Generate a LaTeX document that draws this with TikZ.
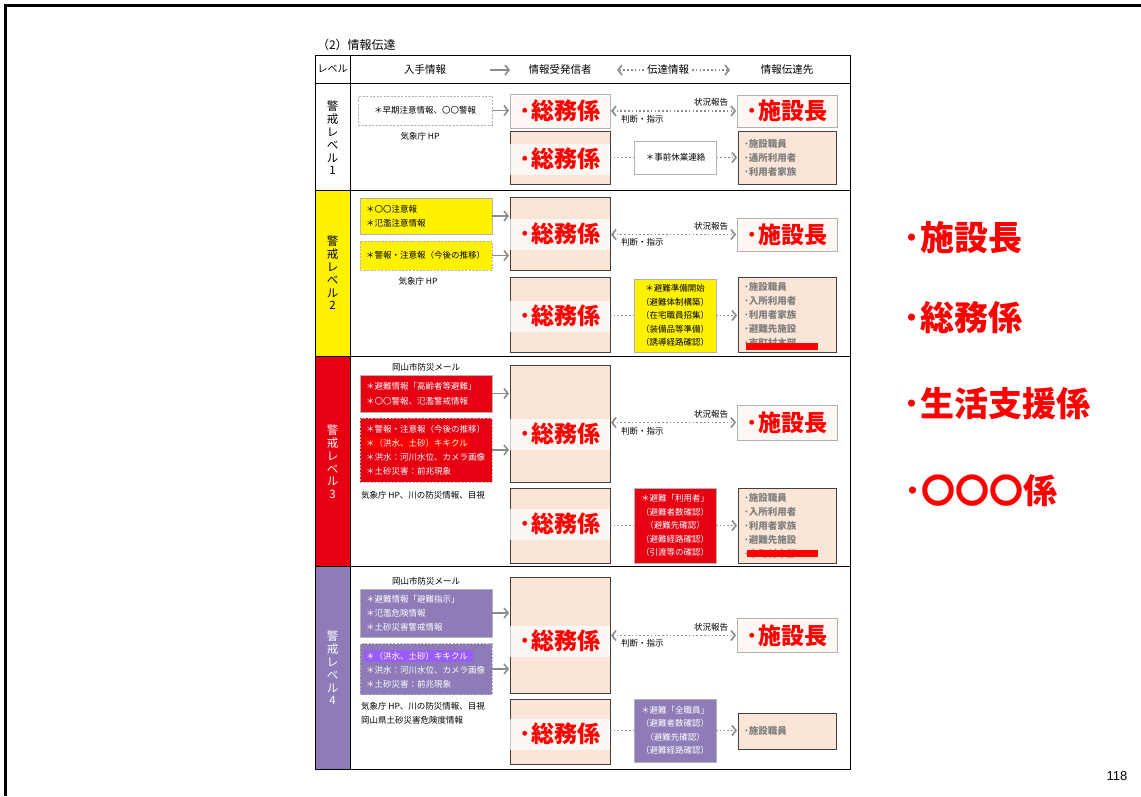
\documentclass[tikz,border=0pt]{standalone}
\usepackage{fontspec}
\setmainfont{Noto Sans CJK JP}
\newfontfamily\arialf{Liberation Sans}
\usetikzlibrary{arrows.meta}
\definecolor{pk}{HTML}{FBE5D6}
\definecolor{yl}{HTML}{FFF200}
\definecolor{rd}{HTML}{E60012}
\definecolor{pu}{HTML}{8E7CB8}
\definecolor{hlr}{HTML}{FF0000}
\definecolor{hlp}{HTML}{9B5CF6}
\definecolor{ar}{HTML}{8C8C8C}
\definecolor{txg}{HTML}{7F7F7F}
\newcommand\fsz[2]{\fontsize{#1}{#2}\selectfont}
\tikzset{
  every node/.style={inner sep=0pt, outer sep=0pt},
  sm/.style={font=\fsz{8.5}{14}},
  hdr/.style={font=\fsz{10.5}{12}},
  lv/.style={align=center, font=\fsz{11.5}{12.8}},
  src/.style={sm, draw=gray!60, line width=0.6pt, text width=120pt, inner xsep=6pt, align=left, minimum height=#1},
  bigred/.style={text=hlr, font=\fsz{23}{23}\bfseries},
  mbox/.style={fill=pk, draw=black!75, line width=0.7pt, minimum width=100pt, minimum height=#1},
  mtop/.style={fill=pk!30, draw=gray!60, line width=0.8pt, minimum width=100pt, minimum height=#1, bigred},
  ovl/.style={fill=white, fill opacity=0.72, text opacity=1, minimum width=100pt, minimum height=31pt, bigred},
  rtop/.style={fill=pk!30, draw=gray!60, line width=0.8pt, minimum width=100pt, minimum height=#1, bigred},
  rbox/.style={fill=pk, draw=black!75, line width=0.7pt, text width=86pt, inner xsep=6pt, align=left, text=txg, font=\fsz{9.5}{14}\bfseries, minimum height=#1},
  cbox/.style={draw=gray!60, line width=0.6pt, minimum width=82pt, align=center, font=\fsz{8.5}{13.5}, minimum height=#1},
  lbl/.style={sm},
  arr/.style={draw=ar, line width=1.6pt, shorten >=1pt, -{Straight Barb[length=4pt,width=10pt]}},
  dotl/.style={draw=ar, line width=1.6pt, dash pattern=on 1.6pt off 2.2pt},
  dota/.style={dotl, shorten >=1pt, -{Straight Barb[length=4pt,width=10pt]}},
  dotd/.style={dotl, shorten >=1pt, shorten <=1pt, {Straight Barb[length=4pt,width=10pt]}-{Straight Barb[length=4pt,width=10pt]}},
  rlabel/.style={anchor=west, text=hlr, font=\fsz{34}{34}\bfseries}
}
\begin{document}
\begin{tikzpicture}[x=1pt,y=-1pt]
\useasboundingbox (0,0) rectangle (1141,796);
\fill[white] (0,0) rectangle (1141,796);
\draw[line width=3pt] (1141,5) -- (5,5) -- (5,796);

% title
\node[anchor=west, font=\fsz{12}{13}] (title) at (317,45) {（2）情報伝達};

% level column fills
\fill[yl] (315,190) rectangle (350,356);
\fill[rd] (315,356) rectangle (350,566);
\fill[pu] (315,566) rectangle (350,769);
% table lines
\draw[line width=0.8pt] (315,55) rectangle (850,769);
\draw[line width=0.8pt] (315,83) -- (850,83);
\draw[line width=0.8pt] (315,190) -- (850,190);
\draw[line width=0.8pt] (315,356) -- (850,356);
\draw[line width=0.8pt] (315,566) -- (850,566);
\draw[line width=0.8pt] (350,55) -- (350,769);

% header
\node[font=\fsz{10}{12}] (hlev) at (332.5,69) {レベル};
\node[hdr] (hin) at (425,70) {入手情報};
\node[hdr] (hmid) at (560,70) {情報受発信者};
\node[hdr] (hden) at (668,70) {伝達情報};
\node[hdr] (hdst) at (787,70) {情報伝達先};
\coordinate (ha1) at (490,70); \coordinate (ha2) at (511,70);
\coordinate (hd1) at (616,70); \coordinate (hd2) at (731,70);
\draw[arr] (ha1) -- (ha2);
\draw[dota] ([xshift=-3pt]hden.west) -- (hd1);
\draw[dota] ([xshift=3pt]hden.east) -- (hd2);

% level labels
\node[lv] (lv1) at (332.5,138) {警\\戒\\レ\\ベ\\ル\\1};
\node[lv] (lv2) at (332.5,273) {警\\戒\\レ\\ベ\\ル\\2};
\node[lv, text=white] (lv3) at (332.5,462) {警\\戒\\レ\\ベ\\ル\\3};
\node[lv, text=white] (lv4) at (332.5,668) {警\\戒\\レ\\ベ\\ル\\4};

% ================= Level 1
\node[sm, draw=gray!60, line width=0.6pt, dash pattern=on 2pt off 1.5pt, minimum width=134pt, minimum height=29pt] (s1) at (425,110.5) {＊早期注意情報、〇〇警報};
\node[lbl] (l1) at (420,136) {気象庁 HP};
\node[mtop=34pt] (m1a) at (560,111) {･総務係};
\node[mbox=53pt] (m1b) at (560,157.5) {};
\node[ovl] (o1b) at (560,159) {･総務係};
\node[rtop=32pt] (r1a) at (787,111) {･施設長};
\node[rbox=53pt] (r1b) at (787,157.5) {･施設職員\\･通所利用者\\･利用者家族};
\node[cbox=33pt, fill=white] (c1) at (675.5,157.5) {＊事前休業連絡};
\draw[arr] (s1.east) -- (s1.east -| m1a.west);
\draw[dotd] (m1a.east |- r1a.west) -- (r1a.west);
\node[lbl, anchor=east] (k1) at (728,102) {状況報告};
\node[lbl, anchor=west] (h1) at (621,119) {判断・指示};
\draw[dotl] (m1b.east |- c1.west) -- (c1.west);
\draw[dota] (c1.east) -- (c1.east -| r1b.west);

% ================= Level 2
\node[src=36pt, fill=yl] (s2a) at (426,216) {＊〇〇注意報\\＊氾濫注意情報};
\node[src=29pt, fill=yl, dash pattern=on 2pt off 1.5pt] (s2b) at (426,255.5) {＊警報・注意報（今後の推移）};
\node[lbl] (l2) at (418,281) {気象庁 HP};
\node[mbox=73pt] (m2a) at (560,233.5) {};
\node[ovl] (o2a) at (560,234) {･総務係};
\node[rtop=33pt] (r2a) at (787,234.5) {･施設長};
\node[mbox=75pt] (m2b) at (560,314.5) {};
\node[ovl] (o2b) at (560,316) {･総務係};
\node[cbox=73pt, fill=yl] (c2) at (675,315.5) {＊避難準備開始\\（避難体制構築）\\（在宅職員招集）\\（装備品等準備）\\（誘導経路確認）};
\node[rbox=75pt] (r2b) at (787,314.5) {･施設職員\\･入所利用者\\･利用者家族\\･避難先施設\\･市町村本部};
\fill[hlr] (746,343) rectangle (818,350);
\draw[arr] (s2a.east) -- (s2a.east -| m2a.west);
\draw[arr] (s2b.east) -- (s2b.east -| m2a.west);
\draw[dotd] (m2a.east |- r2a.west) -- (r2a.west);
\node[lbl, anchor=east] (k2) at (728,226) {状況報告};
\node[lbl, anchor=west] (h2) at (621,242) {判断・指示};
\draw[dotl] (m2b.east |- c2.west) -- (c2.west);
\draw[dota] (c2.east) -- (c2.east -| r2b.west);

% ================= Level 3
\node[lbl] (mail3) at (426,367) {岡山市防災メール};
\node[src=37pt, fill=rd, text=white, font=\fsz{8.5}{15}] (s3a) at (426,393.5) {＊避難情報「高齢者等避難」\\＊〇〇警報、氾濫警戒情報};
\node[src=64pt, fill=rd, text=white, dash pattern=on 2pt off 1.5pt] (s3b) at (426,450) {＊警報・注意報（今後の推移）\\\hspace*{-2pt}{\fboxsep=2pt\colorbox{hlr}{＊（洪水、土砂）キキクル}}\\＊洪水：河川水位、カメラ画像\\＊土砂災害：前兆現象};
\node[lbl, anchor=west] (l3) at (361,495) {気象庁 HP、川の防災情報、目視};
\node[mbox=117pt] (m3a) at (560,423.5) {};
\node[ovl] (o3a) at (560,434) {･総務係};
\node[rtop=35pt] (r3a) at (787,422.5) {･施設長};
\node[mbox=75pt] (m3b) at (560,525.5) {};
\node[ovl] (o3b) at (560,524) {･総務係};
\node[cbox=75pt, fill=rd, text=white] (c3) at (675,525.5) {＊避難「利用者」\\（避難者数確認）\\（避難先確認）\\（避難経路確認）\\（引渡等の確認）};
\node[rbox=75pt] (r3b) at (787,525.5) {･施設職員\\･入所利用者\\･利用者家族\\･避難先施設\\･市町村本部};
\fill[hlr] (747,550) rectangle (818,557);
\draw[arr] (s3a.east) -- (s3a.east -| m3a.west);
\draw[arr] (s3b.east) -- (s3b.east -| m3a.west);
\draw[dotd] (m3a.east |- r3a.west) -- (r3a.west);
\node[lbl, anchor=east] (k3) at (728,414) {状況報告};
\node[lbl, anchor=west] (h3) at (621,431) {判断・指示};
\draw[dotl] (m3b.east |- c3.west) -- (c3.west);
\draw[dota] (c3.east) -- (c3.east -| r3b.west);

% ================= Level 4
\node[lbl] (mail4) at (426,581) {岡山市防災メール};
\node[src=48pt, fill=pu, text=white] (s4a) at (426,613) {＊避難情報「避難指示」\\＊氾濫危険情報\\＊土砂災害警戒情報};
\node[src=51pt, fill=pu, text=white, dash pattern=on 2pt off 1.5pt] (s4b) at (426,669) {\hspace*{-2pt}{\fboxsep=2pt\colorbox{hlp}{＊（洪水、土砂）キキクル\hspace{3pt}}}\\＊洪水：河川水位、カメラ画像\\＊土砂災害：前兆現象};
\node[lbl, anchor=west] (l4a) at (361,706) {気象庁 HP、川の防災情報、目視};
\node[lbl, anchor=west] (l4b) at (361,720) {岡山県土砂災害危険度情報};
\node[mbox=116pt] (m4a) at (560,635) {};
\node[ovl] (o4a) at (560,641) {･総務係};
\node[rtop=34pt] (r4a) at (787,635.5) {･施設長};
\node[mbox=65pt] (m4b) at (560,731.5) {};
\node[ovl] (o4b) at (560,734) {･総務係};
\node[cbox=63pt, fill=pu, text=white] (c4) at (675,730.5) {＊避難「全職員」\\（避難者数確認）\\（避難先確認）\\（避難経路確認）};
\node[rbox=36pt] (r4b) at (787,731) {･施設職員};
\draw[arr] (s4a.east) -- (s4a.east -| m4a.west);
\draw[arr] (s4b.east) -- (s4b.east -| m4a.west);
\draw[dotd] (m4a.east |- r4a.west) -- (r4a.west);
\node[lbl, anchor=east] (k4) at (728,627) {状況報告};
\node[lbl, anchor=west] (h4) at (621,643) {判断・指示};
\draw[dotl] (m4b.east |- c4.west) -- (c4.west);
\draw[dota] (c4.east) -- (c4.east -| r4b.west);

% right side labels
\node[rlabel] (t1) at (903,238) {･施設長};
\node[rlabel] (t2) at (903,318) {･総務係};
\node[rlabel] (t3) at (903,404) {･生活支援係};
\node[rlabel] (t4) at (904,491) {･〇〇〇係};

% page number
\node[font=\arialf\fsz{13}{14}] (pg) at (1117,776) {118};
\end{tikzpicture}
\end{document}
